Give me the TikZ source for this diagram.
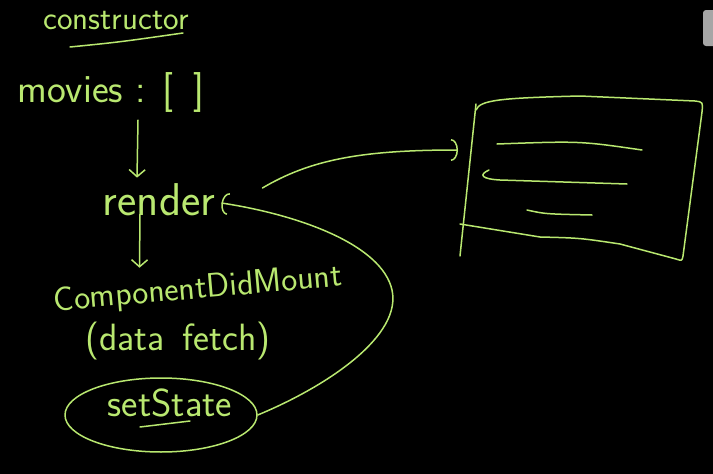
\documentclass[tikz,border=0pt]{standalone}
\usetikzlibrary{arrows.meta,shapes.geometric}
\definecolor{chalk}{RGB}{185,232,112}
\begin{document}
\begin{tikzpicture}[x=1pt,y=-1pt,
  pen/.style={draw=chalk,line width=1.5pt,line cap=round,line join=round},
  word/.style={text=chalk,font=\sffamily\fontsize{#1}{#1}\selectfont,inner sep=2pt},
  word/.default=34,
  flow/.style={pen,-{Straight Barb[length=7pt,width=16pt]}},
  back/.style={pen,-{Arc Barb[length=7pt,width=22pt]}},
  oval/.style={pen,ellipse,minimum width=192pt,minimum height=74pt}]
\fill[black] (0,0) rectangle (713,474);
\useasboundingbox (0,0) rectangle (713,474);
\fill[gray!70,rounded corners=3pt] (703,10) rectangle (720,46);
% left column
\node[word=33] (ctor) at (116,21) {constructor};
\draw[pen] (70,47) .. controls (120,42) .. (183,33);
\node[word=40] (movies) at (111,92) {movies : [\,\,\,]};
\node[word=46] (render) at (159,200) {render};
\node[word=34,rotate=5] (mount) at (198,290) {ComponentDidMount};
\node[word=38] (fetch) at (178,341) {(data \,fetch)};
\node[oval] (state) at (161,415) {};
\node[word=39] (settxt) at (170,403) {setState};
\draw[pen] (140,427) -- (190,421);
\draw[flow] ([xshift=27pt,yshift=-6pt]movies.south) -- ([xshift=-22pt,yshift=4pt]render.north);
\draw[flow] ([xshift=-19pt,yshift=4pt]render.south) -- ([xshift=-57pt,yshift=5pt]mount.north);
% setState loops back to render
\draw[back] (state.east) .. controls (330,385) and (402,335) .. (392,290)
  .. controls (382,245) and (300,215) .. ([xshift=4pt,yshift=-3pt]render.east);
% render paints the screen
\coordinate (win) at (458,150);
\draw[back] ([xshift=45pt,yshift=12pt]render.east) .. controls (310,160) and (360,150) .. (win);
% screen
\draw[pen] (476,104) -- (460,256);
\draw[pen] (476,110) .. controls (480,100) and (500,98) .. (580,96)
  -- (695,101) .. controls (703,102) .. (702,112) -- (683,256)
  .. controls (682,261) .. (676,259) -- (620,244) .. controls (580,238) .. (540,237)
  -- (460,224);
\draw[pen] (497,144) .. controls (580,141) .. (642,150);
\draw[pen] (489,170) .. controls (478,175) and (482,179) .. (500,180) -- (627,184);
\draw[pen] (527,210) .. controls (545,214) .. (592,215);
\end{tikzpicture}
\end{document}
